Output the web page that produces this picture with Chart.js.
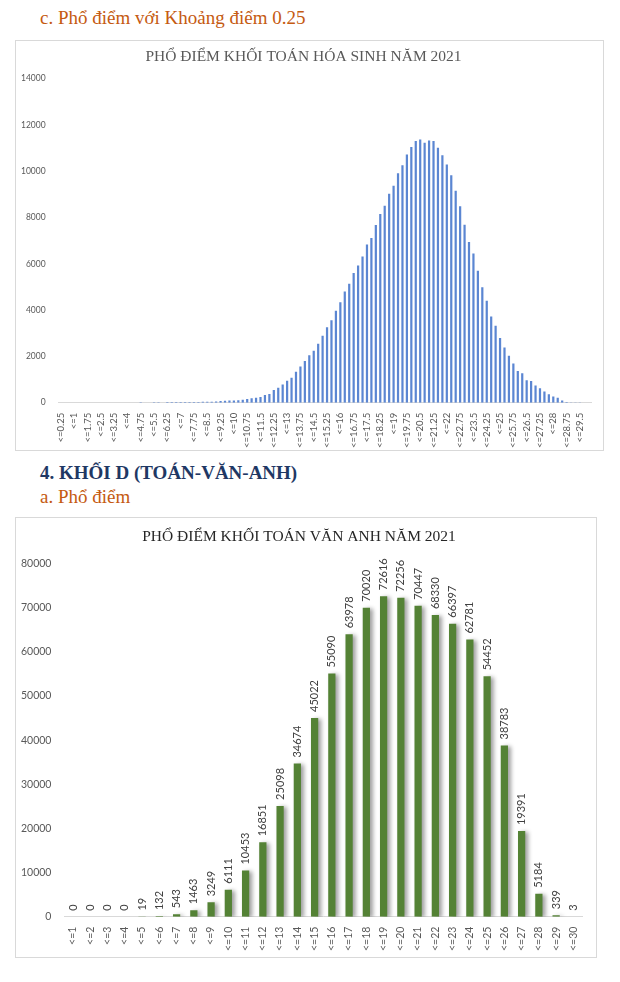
<!DOCTYPE html>
<html lang="vi">
<head>
<meta charset="utf-8">
<script src="https://cdn.jsdelivr.net/npm/chart.js@4.4.1/dist/chart.umd.min.js"></script>
<style>
  html, body { margin: 0; padding: 0; background: #fff; }
  body { width: 620px; height: 982px; position: relative; overflow: hidden; font-family: 'Liberation Serif', serif; }
  .heading { position: absolute; left: 40px; font-size: 19px; line-height: 22px; white-space: nowrap; }
  .orange { color: #c55a11; }
  .navy { color: #1f3864; font-weight: bold; }
  .box { position: absolute; border: 1px solid #d9d9d9; box-sizing: border-box; }
</style>
</head>
<body>
<div class="heading orange" style="top: 7px;">c. Phổ điểm với Khoảng điểm 0.25</div>
<div class="box" style="left: 15px; top: 40px; width: 589px; height: 411px;"><canvas id="hoaSinhChart"></canvas></div>
<div class="heading navy" style="top: 462px;">4. KHỐI D (TOÁN-VĂN-ANH)</div>
<div class="heading orange" style="top: 486px;">a. Phổ điểm</div>
<div class="box" style="left: 15px; top: 517px; width: 582px; height: 441px;"><canvas id="vanAnhChart"></canvas></div>
<script>
// Khối B: Toán - Hóa - Sinh, khoảng điểm 0.25
const hoaSinhLabels = [
  '<=0.25', '<=0.5', '<=0.75', '<=1', '<=1.25', '<=1.5', '<=1.75', '<=2', '<=2.25', '<=2.5',
  '<=2.75', '<=3', '<=3.25', '<=3.5', '<=3.75', '<=4', '<=4.25', '<=4.5', '<=4.75', '<=5',
  '<=5.25', '<=5.5', '<=5.75', '<=6', '<=6.25', '<=6.5', '<=6.75', '<=7', '<=7.25', '<=7.5',
  '<=7.75', '<=8', '<=8.25', '<=8.5', '<=8.75', '<=9', '<=9.25', '<=9.5', '<=9.75', '<=10',
  '<=10.25', '<=10.5', '<=10.75', '<=11', '<=11.25', '<=11.5', '<=11.75', '<=12', '<=12.25', '<=12.5',
  '<=12.75', '<=13', '<=13.25', '<=13.5', '<=13.75', '<=14', '<=14.25', '<=14.5', '<=14.75', '<=15',
  '<=15.25', '<=15.5', '<=15.75', '<=16', '<=16.25', '<=16.5', '<=16.75', '<=17', '<=17.25', '<=17.5',
  '<=17.75', '<=18', '<=18.25', '<=18.5', '<=18.75', '<=19', '<=19.25', '<=19.5', '<=19.75', '<=20',
  '<=20.25', '<=20.5', '<=20.75', '<=21', '<=21.25', '<=21.5', '<=21.75', '<=22', '<=22.25', '<=22.5',
  '<=22.75', '<=23', '<=23.25', '<=23.5', '<=23.75', '<=24', '<=24.25', '<=24.5', '<=24.75', '<=25',
  '<=25.25', '<=25.5', '<=25.75', '<=26', '<=26.25', '<=26.5', '<=26.75', '<=27', '<=27.25', '<=27.5',
  '<=27.75', '<=28', '<=28.25', '<=28.5', '<=28.75', '<=29', '<=29.25', '<=29.5', '<=29.75', '<=30'
];
const hoaSinhValues = [
  0, 0, 0, 0, 0, 0, 0, 0, 0, 0,
  0, 0, 0, 0, 0, 0, 0, 0, 15, 0,
  0, 20, 20, 0, 25, 25, 30, 30, 35, 30,
  30, 35, 40, 45, 45, 55, 70, 80, 90, 100,
  110, 130, 160, 190, 215, 245, 330, 375, 550, 650,
  790, 950, 1080, 1340, 1560, 1800, 2050, 2240, 2550, 2890,
  3260, 3560, 3970, 4340, 4800, 5140, 5600, 5930, 6310, 6830,
  7110, 7680, 8150, 8510, 9030, 9370, 9910, 10260, 10720, 11040,
  11300, 11370, 11230, 11330, 11300, 11010, 10690, 10290, 9830, 9160,
  8490, 7690, 6940, 6450, 5700, 4990, 4400, 3720, 3320, 2790,
  2380, 2030, 1690, 1370, 1270, 970, 940, 740, 620, 480,
  360, 270, 215, 90, 30, 10, 5, 5, 3, 2
];
const hoaSinhTicks = [0, 2000, 4000, 6000, 8000, 10000, 12000, 14000];

// Khối D: Toán - Văn - Anh, khoảng điểm 1
const vanAnhLabels = [
  '<=1', '<=2', '<=3', '<=4', '<=5', '<=6', '<=7', '<=8', '<=9', '<=10',
  '<=11', '<=12', '<=13', '<=14', '<=15', '<=16', '<=17', '<=18', '<=19', '<=20',
  '<=21', '<=22', '<=23', '<=24', '<=25', '<=26', '<=27', '<=28', '<=29', '<=30'
];
const vanAnhValues = [
  0, 0, 0, 0, 19, 132, 543, 1463, 3249, 6111,
  10453, 16851, 25098, 34674, 45022, 55090, 63978, 70020, 72616, 72256,
  70447, 68330, 66397, 62781, 54452, 38783, 19391, 5184, 339, 3
];
const vanAnhTicks = [0, 10000, 20000, 30000, 40000, 50000, 60000, 70000, 80000];

const TICK_COLOR = '#595959';
const AXIS_COLOR = '#d9d9d9';

// bóng đổ cho cột + nhãn giá trị xoay dọc
const shadowAndLabels = {
  id: 'shadowAndLabels',
  beforeDatasetsDraw(chart, args, opts) {
    if (!opts.enabled) return;
    const ctx = chart.ctx;
    ctx.save();
    ctx.shadowColor = 'rgba(0,0,0,0.38)';
    ctx.shadowBlur = 4;
    ctx.shadowOffsetX = 3;
    ctx.shadowOffsetY = 1;
  },
  afterDatasetsDraw(chart, args, opts) {
    if (!opts.enabled) return;
    const ctx = chart.ctx;
    ctx.restore();
    const meta = chart.getDatasetMeta(0);
    const values = chart.data.datasets[0].data;
    ctx.save();
    ctx.fillStyle = '#404040';
    ctx.font = '11px Lato';
    ctx.textAlign = 'left';
    ctx.textBaseline = 'middle';
    meta.data.forEach((bar, i) => {
      ctx.save();
      ctx.translate(bar.x, bar.y - 6);
      ctx.rotate(-Math.PI / 2);
      ctx.fillText(String(values[i]), 0, 0);
      ctx.restore();
    });
    ctx.restore();
  }
};

function buildOptions(cfg) {
  return {
    responsive: true,
    maintainAspectRatio: false,
    animation: false,
    layout: { padding: cfg.padding },
    plugins: {
      legend: { display: false },
      tooltip: { enabled: false },
      title: {
        display: true,
        text: cfg.title,
        color: cfg.titleColor,
        font: { family: 'Liberation Serif', size: cfg.titleSize, weight: 'normal' },
        padding: cfg.titlePadding
      },
      shadowAndLabels: { enabled: cfg.labels }
    },
    scales: {
      x: {
        grid: { display: false },
        border: { display: true, color: AXIS_COLOR },
        ticks: {
          color: TICK_COLOR,
          font: { family: 'Lato', size: cfg.xFont },
          autoSkip: false,
          minRotation: 90,
          maxRotation: 90,
          padding: 2,
          callback: (value, index) => (index % cfg.every === 0 ? cfg.labels_x[index] : '')
        }
      },
      y: {
        min: 0,
        max: cfg.ticks[cfg.ticks.length - 1],
        grid: { display: false },
        border: { display: false },
        afterBuildTicks: (axis) => { axis.ticks = cfg.ticks.map((v) => ({ value: v })); },
        ticks: {
          color: TICK_COLOR,
          font: { family: 'Lato', size: cfg.yFont },
          padding: cfg.yPad,
          callback: (value) => String(value)
        }
      }
    }
  };
}

new Chart(document.getElementById('hoaSinhChart'), {
  type: 'bar',
  data: {
    labels: hoaSinhLabels,
    datasets: [{
      data: hoaSinhValues,
      backgroundColor: '#5b86d2',
      barPercentage: 0.5,
      categoryPercentage: 1
    }]
  },
  options: buildOptions({
    title: 'PHỔ ĐIỂM KHỐI TOÁN HÓA SINH NĂM 2021',
    titleColor: '#595959',
    titleSize: 15.5,
    titlePadding: { top: 7, bottom: 12 },
    padding: { left: 0, right: 12, top: 0, bottom: 0 },
    xFont: 9.5,
    yFont: 8.5,
    yPad: 5,
    every: 3,
    labels_x: hoaSinhLabels,
    ticks: hoaSinhTicks,
    labels: false
  }),
  plugins: [shadowAndLabels]
});

new Chart(document.getElementById('vanAnhChart'), {
  type: 'bar',
  data: {
    labels: vanAnhLabels,
    datasets: [{
      data: vanAnhValues,
      backgroundColor: '#548235',
      barPercentage: 0.42,
      categoryPercentage: 1
    }]
  },
  options: buildOptions({
    title: 'PHỔ ĐIỂM KHỐI TOÁN VĂN ANH NĂM 2021',
    titleColor: '#262626',
    titleSize: 15.5,
    titlePadding: { top: 10, bottom: 17 },
    padding: { left: 0, right: 14, top: 0, bottom: 4 },
    xFont: 10.5,
    yFont: 10.5,
    yPad: 5,
    every: 1,
    labels_x: vanAnhLabels,
    ticks: vanAnhTicks,
    labels: true
  }),
  plugins: [shadowAndLabels]
});
</script>
</body>
</html>
